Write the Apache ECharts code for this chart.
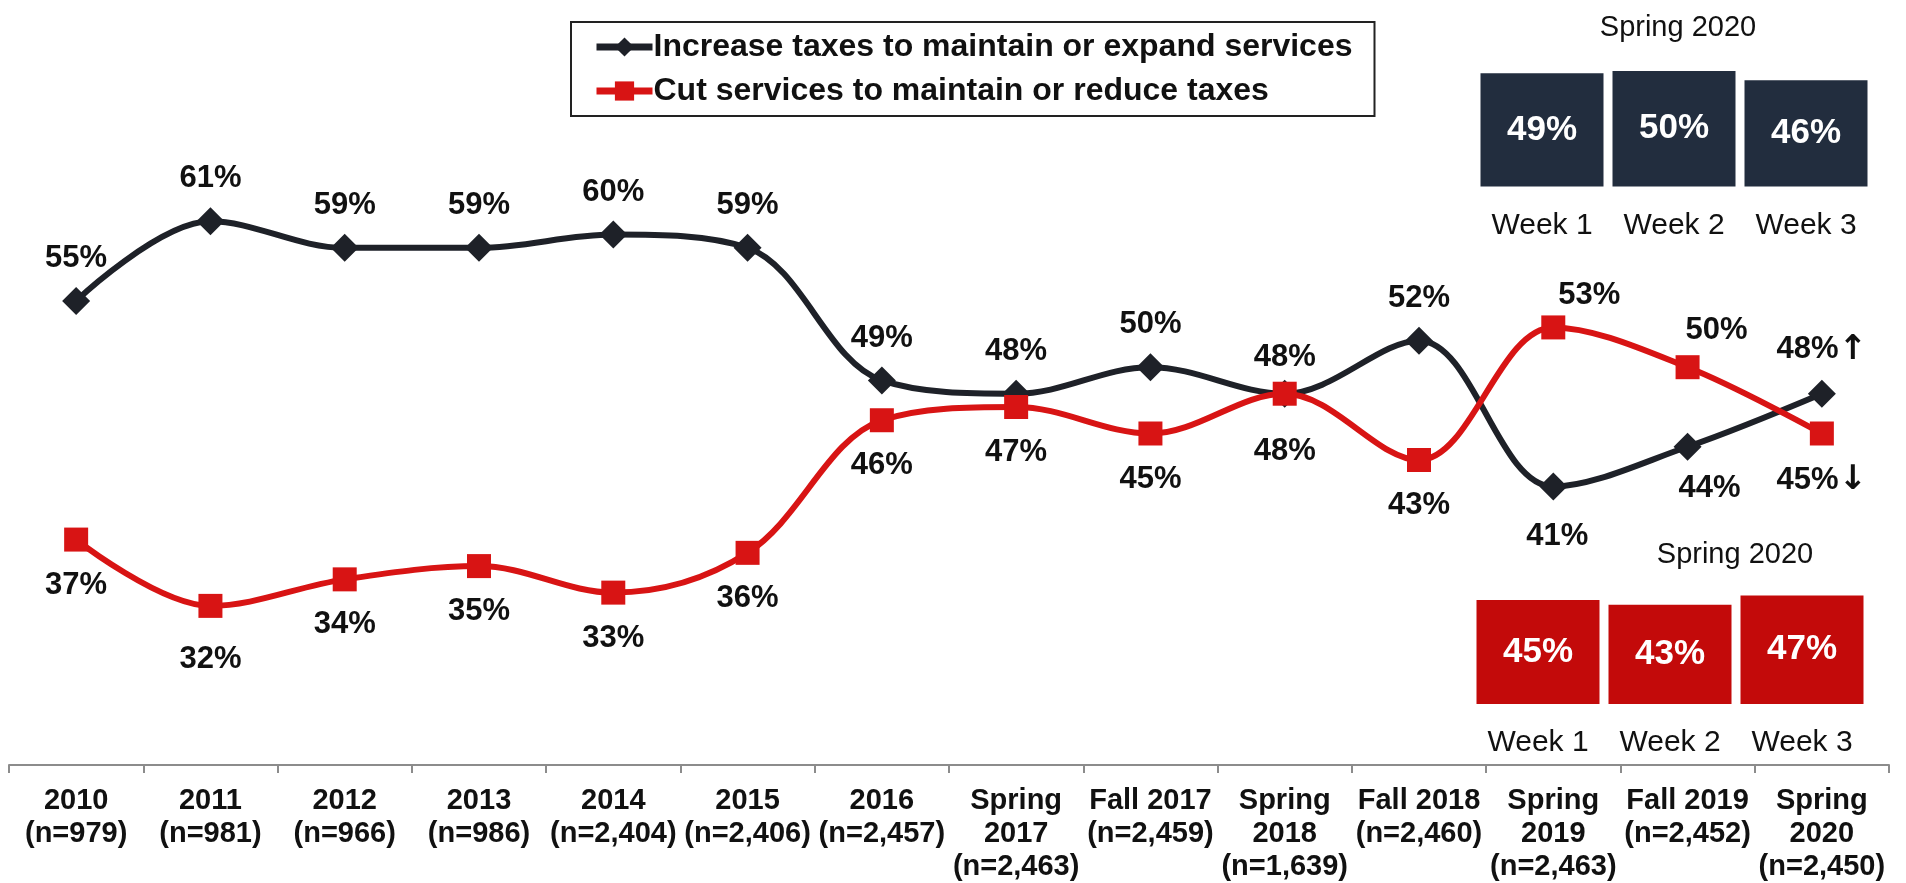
<!DOCTYPE html>
<html>
<head>
<meta charset="utf-8">
<title>Taxes vs services</title>
<script src="https://cdn.jsdelivr.net/npm/echarts@6/dist/echarts.min.js"></script>
<style>
  html, body { margin: 0; padding: 0; background: #fff; }
  #chart { width: 1906px; height: 883px; }
</style>
</head>
<body>
<div id="chart"></div>
<script>
// categories of the main axis
const periods = [
  '2010\n(n=979)', '2011\n(n=981)', '2012\n(n=966)', '2013\n(n=986)',
  '2014\n(n=2,404)', '2015\n(n=2,406)', '2016\n(n=2,457)',
  'Spring\n2017\n(n=2,463)', 'Fall 2017\n(n=2,459)', 'Spring\n2018\n(n=1,639)',
  'Fall 2018\n(n=2,460)', 'Spring\n2019\n(n=2,463)', 'Fall 2019\n(n=2,452)',
  'Spring\n2020\n(n=2,450)'
]
const increaseTaxes = [55, 61, 59, 59, 60, 59, 49, 48, 50, 48, 52, 41, 44, 48]
const cutServices = [37, 32, 34, 35, 33, 36, 46, 47, 45, 48, 43, 53, 50, 45]

// Spring 2020 weekly breakdown
const weeks = ['Week 1', 'Week 2', 'Week 3']
const weeksIncrease = [49, 50, 46]
const weeksCut = [45, 43, 47]

const nameIncrease = 'Increase taxes to maintain or expand services'
const nameCut = 'Cut services to maintain or reduce taxes'

const FONT = "'Liberation Sans', Arial, sans-serif"
const BLACK = '#1e2128'
const RED = '#d81414'

// label placement tweaks (by index) where the original moves a label
const blackTweaks = {
  9: { distance: 7 },
  11: { position: 'bottom', distance: 20, offset: [4, 0] },
  12: { position: 'bottom', distance: 12, offset: [22, 0] },
  13: { formatter: '{v|{c}%}{a|↑}' }
}
const redTweaks = {
  1: { distance: 26 },
  9: { distance: 30 },
  11: { position: 'top', distance: 4, offset: [36, 0] },
  12: { position: 'top', distance: 9, offset: [29, 0] },
  13: { formatter: '{v|{c}%}{a|↓}' }
}

const arrowRich = {
  v: { fontFamily: FONT, fontWeight: 'bold', fontSize: 31, color: '#111' },
  a: { fontFamily: 'DejaVu Sans, sans-serif', fontSize: 34, color: '#111' }
}

function withTweaks (values, tweaks) {
  return values.map((v, i) => tweaks[i] ? { value: v, label: tweaks[i] } : v)
}

const chart = echarts.init(document.getElementById('chart'), null, { renderer: 'canvas' })

const option = {
  animation: false,
  backgroundColor: '#fff',
  title: [
    {
      text: 'Spring 2020', left: 1673, top: 8, textAlign: 'center',
      textStyle: { fontFamily: FONT, fontSize: 29, fontWeight: 'normal', color: '#111' }
    },
    {
      text: 'Spring 2020', left: 1730, top: 535, textAlign: 'center',
      textStyle: { fontFamily: FONT, fontSize: 29, fontWeight: 'normal', color: '#111' }
    }
  ],
  legend: {
    orient: 'vertical',
    left: 571,
    top: 22,
    padding: [9, 22, 9, 22],
    itemGap: 12,
    itemWidth: 56,
    itemHeight: 24,
    borderColor: '#222',
    borderWidth: 2,
    lineStyle: { width: 7 },
    data: [nameIncrease, nameCut],
    textStyle: { fontFamily: FONT, fontSize: 32, fontWeight: 'bold', color: '#111', padding: [0, 0, 0, -4] }
  },
  grid: [
    { left: 9, right: 17, top: 102, bottom: 117 },
    { left: 1476, width: 396, top: 71, height: 115.5 },
    { left: 1472, width: 396, top: 588.5, height: 115.5 }
  ],
  xAxis: [
    {
      type: 'category',
      gridIndex: 0,
      data: periods,
      boundaryGap: true,
      axisLine: { lineStyle: { color: '#8c8c8c', width: 2 } },
      axisTick: { show: true, length: 8, lineStyle: { color: '#8c8c8c', width: 2 } },
      axisLabel: {
        margin: 19,
        interval: 0,
        fontFamily: FONT,
        fontWeight: 'bold',
        fontSize: 29,
        lineHeight: 33,
        color: '#111'
      }
    },
    {
      type: 'category', gridIndex: 1, data: weeks,
      axisLine: { show: false }, axisTick: { show: false },
      axisLabel: { margin: 24, fontFamily: FONT, fontSize: 30, color: '#111' }
    },
    {
      type: 'category', gridIndex: 2, data: weeks,
      axisLine: { show: false }, axisTick: { show: false },
      axisLabel: { margin: 24, fontFamily: FONT, fontSize: 30, color: '#111' }
    }
  ],
  yAxis: [
    { type: 'value', gridIndex: 0, min: 20, max: 70, show: false },
    { type: 'value', gridIndex: 1, min: 0, max: 50, show: false },
    { type: 'value', gridIndex: 2, min: 0, max: 50, show: false }
  ],
  series: [
    {
      name: nameIncrease,
      type: 'line',
      xAxisIndex: 0,
      yAxisIndex: 0,
      data: withTweaks(increaseTaxes, blackTweaks),
      smooth: 0.35,
      symbol: 'diamond',
      symbolSize: 28,
      z: 3,
      lineStyle: { color: BLACK, width: 6 },
      itemStyle: { color: BLACK },
      label: {
        show: true,
        position: 'top',
        distance: 13,
        formatter: '{c}%',
        fontFamily: FONT,
        fontWeight: 'bold',
        fontSize: 31,
        color: '#111',
        rich: arrowRich
      }
    },
    {
      name: nameCut,
      type: 'line',
      xAxisIndex: 0,
      yAxisIndex: 0,
      data: withTweaks(cutServices, redTweaks),
      smooth: 0.35,
      symbol: 'rect',
      symbolSize: 24,
      z: 4,
      lineStyle: { color: RED, width: 6 },
      itemStyle: { color: RED },
      label: {
        show: true,
        position: 'bottom',
        distance: 18,
        formatter: '{c}%',
        fontFamily: FONT,
        fontWeight: 'bold',
        fontSize: 31,
        color: '#111',
        rich: arrowRich
      }
    },
    {
      type: 'bar',
      xAxisIndex: 1,
      yAxisIndex: 1,
      data: weeksIncrease,
      barWidth: 123,
      itemStyle: { color: '#222d3e' },
      label: {
        show: true,
        position: 'inside',
        formatter: '{c}%',
        fontFamily: FONT,
        fontWeight: 'bold',
        fontSize: 35,
        color: '#fff'
      }
    },
    {
      type: 'bar',
      xAxisIndex: 2,
      yAxisIndex: 2,
      data: weeksCut,
      barWidth: 123,
      itemStyle: { color: '#c30a0a' },
      label: {
        show: true,
        position: 'inside',
        formatter: '{c}%',
        fontFamily: FONT,
        fontWeight: 'bold',
        fontSize: 35,
        color: '#fff'
      }
    }
  ]
}

chart.setOption(option)
</script>
</body>
</html>
